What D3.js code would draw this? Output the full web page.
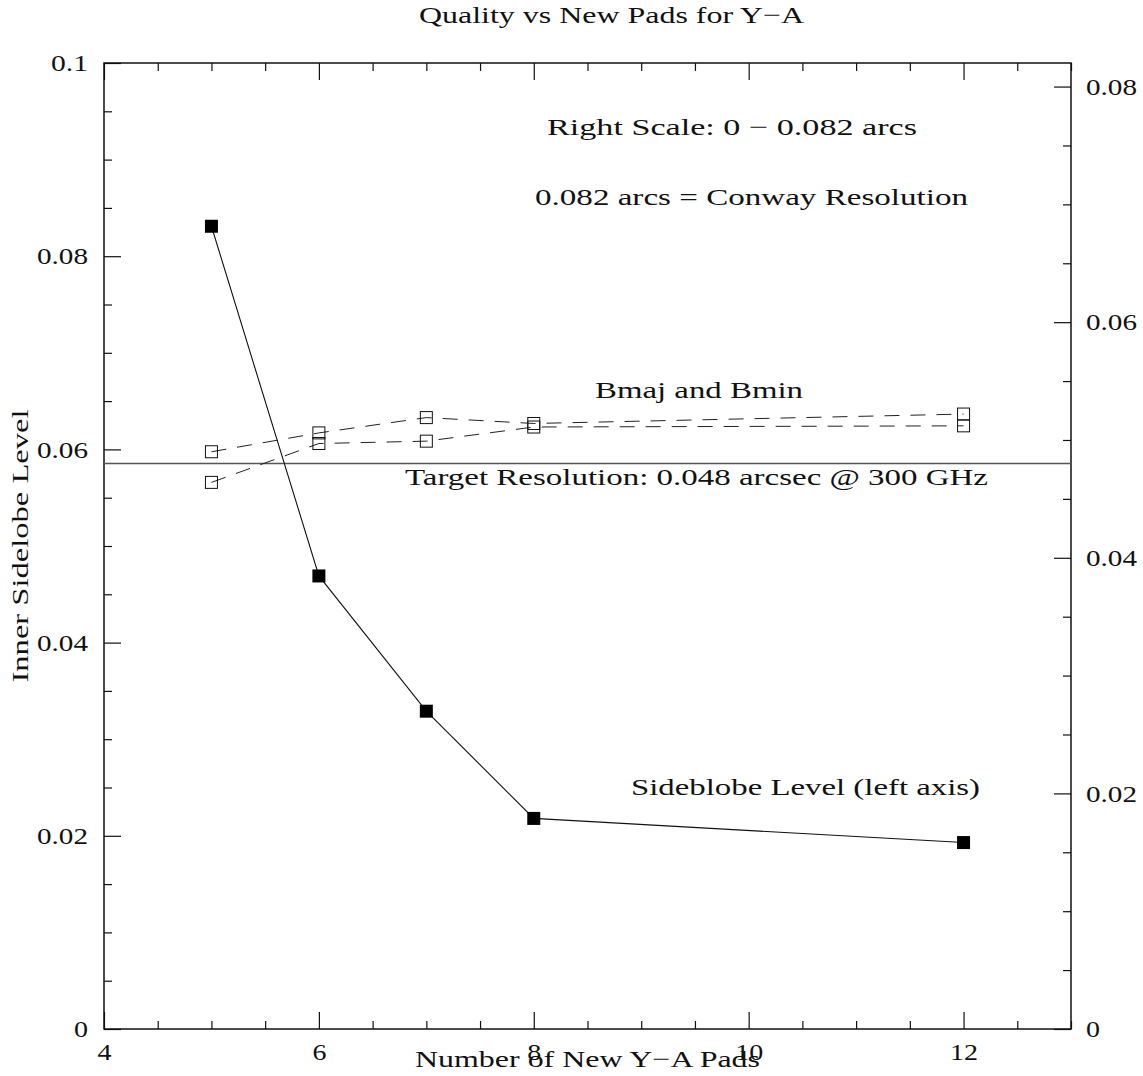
<!DOCTYPE html>
<html>
<head>
<meta charset="utf-8">
<script src="https://cdn.jsdelivr.net/npm/d3@7"></script>
<style>
  body { margin: 0; background: #fff; }
  text { font-family: "Liberation Serif", "DejaVu Serif", serif; fill: #111; }
</style>
</head>
<body>
<svg id="chart" width="1143" height="1076"></svg>
<script>
// Number of new Y-A pads tested
const padCounts = [5, 6, 7, 8, 12];
// Inner sidelobe level (left axis)
const sidelobeLevel = [0.0831, 0.0469, 0.0329, 0.0218, 0.0193];
// Synthesized beam sizes in arcsec (right axis)
const beamMajor = [0.0490, 0.0506, 0.0519, 0.0514, 0.0522];
const beamMinor = [0.0464, 0.0497, 0.0499, 0.0511, 0.0512];
// Reference resolutions in arcsec
const targetResolution = 0.048;
const conwayResolution = 0.082;

const xMajorTicks = [4, 6, 8, 10, 12];
const leftMajorTicks = [0, 0.02, 0.04, 0.06, 0.08, 0.1];
const leftTickLabels = ["0", "0.02", "0.04", "0.06", "0.08", "0.1"];
const rightMajorTicks = [0, 0.02, 0.04, 0.06, 0.08];
const rightTickLabels = ["0", "0.02", "0.04", "0.06", "0.08"];

const frame = { left: 104, right: 1071, top: 63, bottom: 1029 };

const svg = d3.select("#chart");

const x = d3.scaleLinear().domain([4, 13]).range([frame.left, frame.right]);
const yL = d3.scaleLinear().domain([0, 0.1]).range([frame.bottom, frame.top]);
const yR = d3.scaleLinear().domain([0, conwayResolution]).range([frame.bottom, frame.top]);

const near = (a, b) => Math.abs(a - b) < 1e-9;
const xMinor = d3.range(4, 13.0001, 0.5).filter(v => !xMajorTicks.some(m => near(m, v)));
const leftMinor = d3.range(0, 0.1001, 0.005).filter(v => !leftMajorTicks.some(m => near(m, v)));
const rightMinor = d3.range(0, conwayResolution, 0.005).filter(v => !rightMajorTicks.some(m => near(m, v)));

const MAJ = 17, MIN = 8;

// wide, thin numerals: stretch each label to a per-character width
const numWidth = s => [...s].reduce((w, c) => w + (c === "." ? 9 : 14), 0);

function styleAxis(g) {
  g.select(".domain").remove();
  g.selectAll(".tick line").attr("stroke", "#111").attr("stroke-width", 1.2);
  g.selectAll(".tick text")
    .attr("font-size", 24)
    .attr("fill", "#111")
    .style("font-family", '"Liberation Serif", serif')
    .each(function () {
      const s = this.textContent;
      if (s) d3.select(this).attr("textLength", numWidth(s)).attr("lengthAdjust", "spacingAndGlyphs");
    });
}

// bottom axis (ticks inward)
svg.append("g").attr("transform", `translate(0,${frame.bottom})`)
  .call(d3.axisBottom(x).tickValues(xMajorTicks).tickSize(-MAJ).tickPadding(12)
    .tickFormat(d => String(d)))
  .call(styleAxis)
  .call(g => g.selectAll(".tick text").attr("dy", "0.71em").attr("y", 14));
svg.append("g").attr("transform", `translate(0,${frame.bottom})`)
  .call(d3.axisBottom(x).tickValues(xMinor).tickSize(-MIN).tickFormat(""))
  .call(styleAxis);

// top axis (ticks only)
svg.append("g").attr("transform", `translate(0,${frame.top})`)
  .call(d3.axisTop(x).tickValues(xMajorTicks).tickSize(-MAJ).tickFormat(""))
  .call(styleAxis);
svg.append("g").attr("transform", `translate(0,${frame.top})`)
  .call(d3.axisTop(x).tickValues(xMinor).tickSize(-MIN).tickFormat(""))
  .call(styleAxis);

// left axis
svg.append("g").attr("transform", `translate(${frame.left},0)`)
  .call(d3.axisLeft(yL).tickValues(leftMajorTicks).tickSize(-MAJ).tickPadding(16)
    .tickFormat((d, i) => leftTickLabels[i]))
  .call(styleAxis);
svg.append("g").attr("transform", `translate(${frame.left},0)`)
  .call(d3.axisLeft(yL).tickValues(leftMinor).tickSize(-MIN).tickFormat(""))
  .call(styleAxis);

// right axis (beam size scale)
svg.append("g").attr("transform", `translate(${frame.right},0)`)
  .call(d3.axisRight(yR).tickValues(rightMajorTicks).tickSize(-MAJ).tickPadding(15)
    .tickFormat((d, i) => rightTickLabels[i]))
  .call(styleAxis);
svg.append("g").attr("transform", `translate(${frame.right},0)`)
  .call(d3.axisRight(yR).tickValues(rightMinor).tickSize(-MIN).tickFormat(""))
  .call(styleAxis);

// frame
svg.append("rect")
  .attr("x", frame.left).attr("y", frame.top)
  .attr("width", frame.right - frame.left).attr("height", frame.bottom - frame.top)
  .attr("fill", "none").attr("stroke", "#111").attr("stroke-width", 1.5);

// target resolution line
svg.append("line")
  .attr("x1", frame.left).attr("x2", frame.right)
  .attr("y1", yR(targetResolution)).attr("y2", yR(targetResolution))
  .attr("stroke", "#555").attr("stroke-width", 1.6);

// beam size series (dashed, open squares)
const beamLine = d3.line().x((d, i) => x(padCounts[i])).y(d => yR(d));
[beamMajor, beamMinor].forEach(series => {
  svg.append("path").datum(series)
    .attr("d", beamLine)
    .attr("fill", "none").attr("stroke", "#222").attr("stroke-width", 1)
    .attr("stroke-dasharray", "15,11");
});
[beamMajor, beamMinor].forEach(series => {
  svg.append("g").selectAll("rect").data(series).join("rect")
    .attr("x", (d, i) => x(padCounts[i]) - 6)
    .attr("y", d => yR(d) - 6)
    .attr("width", 12).attr("height", 12)
    .attr("fill", "none").attr("stroke", "#111").attr("stroke-width", 1);
});

// sidelobe series (solid, filled squares)
const sideLine = d3.line().x((d, i) => x(padCounts[i])).y(d => yL(d));
svg.append("path").datum(sidelobeLevel)
  .attr("d", sideLine)
  .attr("fill", "none").attr("stroke", "#111").attr("stroke-width", 1.1);
svg.append("g").selectAll("rect").data(sidelobeLevel).join("rect")
  .attr("x", (d, i) => x(padCounts[i]) - 6.5)
  .attr("y", d => yL(d) - 6.5)
  .attr("width", 13).attr("height", 13)
  .attr("fill", "#000");

// text labels
function label(str, x0, y0, len, opts = {}) {
  const t = svg.append("text")
    .attr("x", x0).attr("y", y0)
    .attr("font-size", opts.size || 24)
    .attr("textLength", len)
    .attr("lengthAdjust", "spacingAndGlyphs")
    .text(str);
  if (opts.rotate) t.attr("transform", `rotate(-90,${x0},${y0})`).attr("text-anchor", "middle");
  return t;
}

label("Quality vs New Pads for Y\u2212A", 419, 23, 385);
label("Right Scale: 0 \u2212 0.082 arcs", 547, 135, 370);
label("0.082 arcs = Conway Resolution", 535, 205, 433);
label("Bmaj and Bmin", 595, 398, 208);
label("Target Resolution: 0.048 arcsec @ 300 GHz", 405, yR(targetResolution) + 21, 583);
label("Sideblobe Level (left axis)", 631, 795, 349);
label("Number of New Y\u2212A Pads", 415, 1067, 345);
label("Inner Sidelobe Level", 28, 546, 273, { rotate: true });
</script>
</body>
</html>
